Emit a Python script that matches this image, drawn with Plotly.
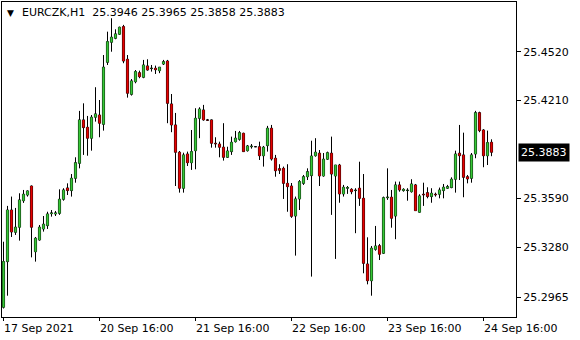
import plotly.graph_objects as go

symbol = "EURCZK,H1"

opens = [25.2901, 25.3190, 25.3517, 25.3376, 25.3408, 25.3576, 25.3612, 25.3669, 25.3253, 25.3327,
         25.3397, 25.3418, 25.3494, 25.3492, 25.3496, 25.3585, 25.3657, 25.3640, 25.3718, 25.3813,
         25.4088, 25.4041, 25.3972, 25.4105, 25.4119, 25.4060, 25.4453, 25.4580, 25.4605, 25.4631,
         25.4679, 25.4472, 25.4250, 25.4330, 25.4387, 25.4358, 25.4430, 25.4413, 25.4415, 25.4400,
         25.4442, 25.4461, 25.4189, 25.4056, 25.3883, 25.3655, 25.3872, 25.3817, 25.3893, 25.4098,
         25.4151, 25.4088, 25.4088, 25.3940, 25.3935, 25.3915, 25.3851, 25.3887, 25.3950, 25.3965,
         25.4003, 25.3893, 25.3918, 25.3918, 25.3918, 25.3861, 25.3925, 25.4035, 25.3845, 25.3779,
         25.3781, 25.3686, 25.3669, 25.3479, 25.3587, 25.3686, 25.3728, 25.3735, 25.3861, 25.3877,
         25.3733, 25.3839, 25.3877, 25.3733, 25.3802, 25.3619, 25.3655, 25.3648, 25.3640, 25.3655,
         25.3591, 25.3175, 25.3069, 25.3268, 25.3291, 25.3243, 25.3595, 25.3598, 25.3479, 25.3676,
         25.3640, 25.3640, 25.3633, 25.3676, 25.3503, 25.3617, 25.3627, 25.3602, 25.3617, 25.3617,
         25.3640, 25.3655, 25.3659, 25.3712, 25.3877, 25.3866, 25.3728, 25.3718, 25.3872, 25.4134,
         25.4024, 25.3861, 25.3946]
highs = [25.3316, 25.3543, 25.3602, 25.3530, 25.3623, 25.3644, 25.3641, 25.3672, 25.3346, 25.3422,
         25.3479, 25.3506, 25.3517, 25.3511, 25.3648, 25.3655, 25.3686, 25.3745, 25.3851, 25.4145,
         25.4193, 25.4113, 25.4119, 25.4295, 25.4214, 25.4499, 25.4647, 25.4732, 25.4662, 25.4679,
         25.4690, 25.4499, 25.4347, 25.4404, 25.4400, 25.4468, 25.4472, 25.4436, 25.4432, 25.4423,
         25.4468, 25.4468, 25.4252, 25.4132, 25.3891, 25.3880, 25.3887, 25.4024, 25.4162, 25.4168,
         25.4183, 25.4094, 25.4091, 25.3978, 25.3950, 25.4067, 25.3918, 25.3982, 25.4018, 25.4018,
         25.4007, 25.3929, 25.3935, 25.3921, 25.3950, 25.3923, 25.4050, 25.4056, 25.3866, 25.3807,
         25.3792, 25.3807, 25.3688, 25.3602, 25.3707, 25.3739, 25.3781, 25.3956, 25.3972, 25.3897,
         25.3878, 25.3887, 25.3982, 25.3802, 25.3809, 25.3676, 25.3669, 25.3655, 25.3655, 25.3823,
         25.3745, 25.3344, 25.3289, 25.3416, 25.3302, 25.3602, 25.3781, 25.3644, 25.3697, 25.3697,
         25.3655, 25.3655, 25.3712, 25.3682, 25.3617, 25.3690, 25.3661, 25.3655, 25.3627, 25.3659,
         25.3682, 25.3676, 25.3724, 25.3893, 25.4056, 25.4007, 25.3739, 25.3878, 25.4145, 25.4140,
         25.4029, 25.4020, 25.3965]
lows = [25.2893, 25.2974, 25.3346, 25.3359, 25.3323, 25.3562, 25.3602, 25.3217, 25.3190, 25.3323,
        25.3380, 25.3397, 25.3475, 25.3479, 25.3486, 25.3576, 25.3612, 25.3602, 25.3690, 25.3781,
        25.3866, 25.3861, 25.3893, 25.4077, 25.3978, 25.4020, 25.4436, 25.4520, 25.4599, 25.4626,
        25.4447, 25.4229, 25.4242, 25.4320, 25.4352, 25.4352, 25.4400, 25.4394, 25.4379, 25.4384,
        25.4436, 25.4067, 25.4010, 25.3669, 25.3627, 25.3627, 25.3796, 25.3771, 25.3775, 25.3972,
        25.4083, 25.4083, 25.3912, 25.3912, 25.3851, 25.3830, 25.3847, 25.3866, 25.3944, 25.3956,
        25.3887, 25.3887, 25.3906, 25.3916, 25.3834, 25.3792, 25.3887, 25.3830, 25.3728, 25.3745,
        25.3587, 25.3506, 25.3467, 25.3228, 25.3517, 25.3676, 25.3707, 25.3095, 25.3855, 25.3669,
        25.3728, 25.3834, 25.3486, 25.3207, 25.3563, 25.3602, 25.3619, 25.3617, 25.3370, 25.3543,
        25.3116, 25.3046, 25.2974, 25.3259, 25.3200, 25.3238, 25.3581, 25.3405, 25.3332, 25.3633,
        25.3633, 25.3576, 25.3627, 25.3513, 25.3500, 25.3543, 25.3591, 25.3563, 25.3602, 25.3591,
        25.3591, 25.3650, 25.3655, 25.3627, 25.3707, 25.3598, 25.3686, 25.3690, 25.3845, 25.4010,
        25.3788, 25.3802, 25.3858]
closes = [25.3190, 25.3517, 25.3378, 25.3408, 25.3581, 25.3617, 25.3638, 25.3408, 25.3338, 25.3408,
          25.3427, 25.3492, 25.3498, 25.3498, 25.3585, 25.3644, 25.3640, 25.3718, 25.3817, 25.4088,
          25.4039, 25.3972, 25.4105, 25.4126, 25.4067, 25.4422, 25.4584, 25.4612, 25.4633, 25.4675,
          25.4461, 25.4257, 25.4335, 25.4394, 25.4362, 25.4436, 25.4404, 25.4415, 25.4406, 25.4422,
          25.4457, 25.4193, 25.4056, 25.3883, 25.3655, 25.3866, 25.3817, 25.3887, 25.4098, 25.4157,
          25.4088, 25.4086, 25.3940, 25.3937, 25.3915, 25.3851, 25.3891, 25.3946, 25.3972, 25.4007,
          25.3887, 25.3923, 25.3921, 25.3918, 25.3861, 25.3915, 25.4035, 25.3840, 25.3766, 25.3769,
          25.3686, 25.3665, 25.3477, 25.3587, 25.3697, 25.3728, 25.3760, 25.3859, 25.3883, 25.3733,
          25.3839, 25.3880, 25.3745, 25.3802, 25.3619, 25.3661, 25.3659, 25.3633, 25.3642, 25.3591,
          25.3179, 25.3069, 25.3275, 25.3289, 25.3237, 25.3595, 25.3598, 25.3465, 25.3676, 25.3644,
          25.3648, 25.3642, 25.3682, 25.3513, 25.3606, 25.3614, 25.3602, 25.3623, 25.3614, 25.3644,
          25.3661, 25.3665, 25.3712, 25.3872, 25.3861, 25.3724, 25.3714, 25.3866, 25.4134, 25.4020,
          25.3861, 25.3944, 25.3883]

y_ticks = [25.4520, 25.4210, 25.3590, 25.3280, 25.2965]
x_tick_pos = [0, 24, 48, 72, 96, 120]
x_tick_text = ["17 Sep 2021", "20 Sep 16:00", "21 Sep 16:00", "22 Sep 16:00", "23 Sep 16:00", "24 Sep 16:00"]

FONT = "DejaVu Sans"
GREEN = "#36c836"
RED = "#e60000"
idx = list(range(len(opens)))
last = len(closes) - 1
body_top = [max(o, c) for o, c in zip(opens, closes)]
body_bot = [min(o, c) for o, c in zip(opens, closes)]

fig = go.Figure()
# wicks + dark outline
fig.add_trace(go.Candlestick(
    x=idx, open=opens, high=highs, low=lows, close=closes,
    increasing=dict(line=dict(color="black", width=1), fillcolor=GREEN),
    decreasing=dict(line=dict(color="black", width=1), fillcolor=RED),
    whiskerwidth=0, hoverinfo="skip", showlegend=False,
))
# coloured body fill on top
fig.add_trace(go.Candlestick(
    x=idx, open=opens, high=body_top, low=body_bot, close=closes,
    increasing=dict(line=dict(color=GREEN, width=0), fillcolor=GREEN),
    decreasing=dict(line=dict(color=RED, width=0), fillcolor=RED),
    whiskerwidth=0, hoverinfo="skip", showlegend=False,
))

annotations = []
for pos, txt in zip(x_tick_pos, x_tick_text):
    annotations.append(dict(x=pos, y=0, xref="x", yref="paper", text=txt, showarrow=False,
                            xanchor="left", yanchor="top", xshift=-2, yshift=-3,
                            font=dict(family=FONT, size=11, color="black")))

header = (symbol + "\u00a0\u00a0" + " ".join(f"{v:.4f}" for v in
          [opens[last], highs[last], lows[last], closes[last]]))
annotations.append(dict(x=0, y=1, xref="paper", yref="paper", text=header, showarrow=False,
                        xanchor="left", yanchor="top", xshift=18, yshift=-2,
                        font=dict(family=FONT, size=11, color="black")))
annotations.append(dict(x=0, y=1, xref="paper", yref="paper", text="▼", showarrow=False,
                        xanchor="left", yanchor="top", xshift=3, yshift=-4,
                        font=dict(family=FONT, size=9, color="black")))
annotations.append(dict(x=1, y=closes[last], xref="paper", yref="y", text=f"{closes[last]:.4f}",
                        showarrow=False, xanchor="left", yanchor="middle", xshift=2,
                        bgcolor="black", borderpad=2,
                        font=dict(family=FONT, size=11, color="white")))

fig.update_layout(
    width=580, height=340,
    margin=dict(l=2, r=64, t=2, b=23),
    paper_bgcolor="white", plot_bgcolor="white",
    font=dict(family=FONT, size=11, color="black"),
    xaxis=dict(range=[-0.375, 128.125], showgrid=False, zeroline=False, showline=True, mirror=True,
               linecolor="black", linewidth=1, ticks="outside", ticklen=3, tickcolor="black",
               tickvals=x_tick_pos, showticklabels=False, rangeslider=dict(visible=False),
               fixedrange=True),
    yaxis=dict(range=[25.2839, 25.4835], side="right", showgrid=False, zeroline=False,
               showline=True, mirror=True, linecolor="black", linewidth=1, ticks="outside",
               ticklen=4, tickcolor="black", tickvals=y_ticks, tickformat=".4f",
               tickfont=dict(family=FONT, size=11, color="black"), fixedrange=True),
    annotations=annotations,
    boxgap=0.25,
    boxmode="overlay",
)

fig.write_html("out.html")
